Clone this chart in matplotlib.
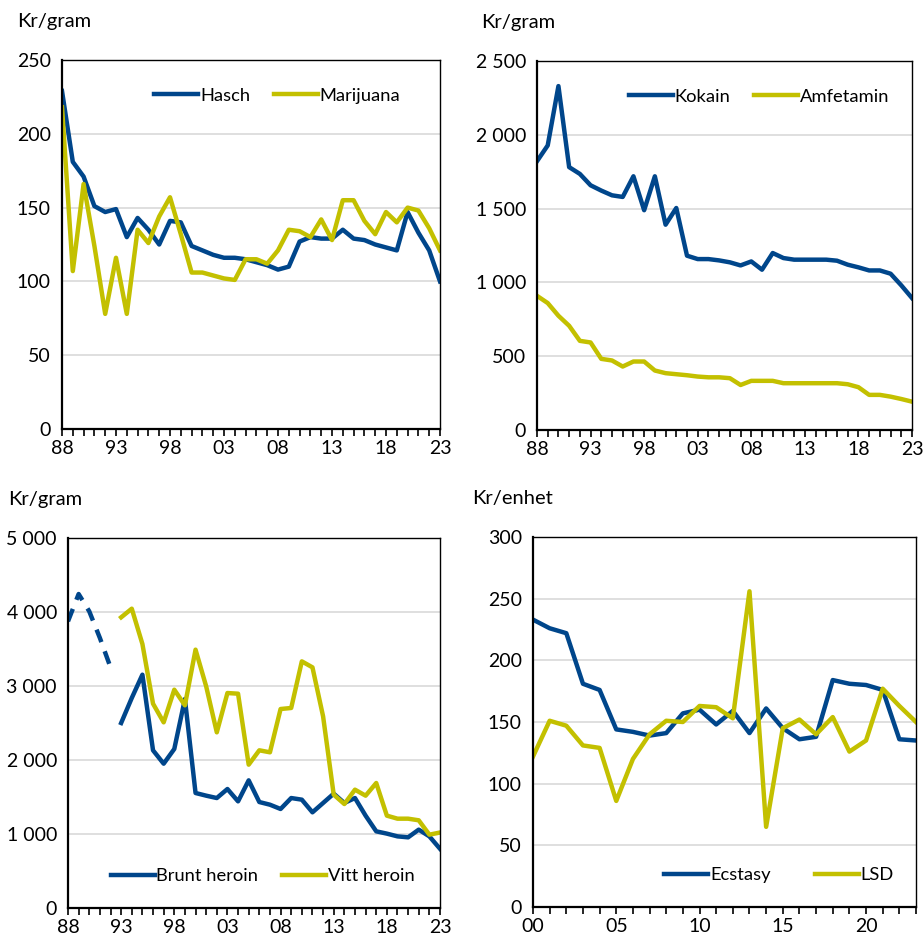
import matplotlib
matplotlib.use("Agg")
import matplotlib.pyplot as plt
from matplotlib.ticker import FuncFormatter, MultipleLocator

plt.rcParams["font.family"] = ["Lato", "DejaVu Sans"]

NAVY = "#00468B"
OLIVE = "#C3C000"

years_long = list(range(1988, 2024))
years_short = list(range(2000, 2024))

hasch = [229, 181, 171, 151, 147, 149, 130, 143, 135, 125, 141, 140, 124, 121, 118, 116,
         116, 115, 113, 111, 108, 110, 127, 130, 129, 129, 135, 129, 128, 125, 123, 121,
         147, 133, 121, 100]
marijuana = [218, 107, 166, 124, 78, 116, 78, 135, 126, 144, 157, 132, 106, 106, 104, 102,
             101, 115, 115, 112, 121, 135, 134, 130, 142, 128, 155, 155, 141, 132, 147, 140,
             150, 148, 136, 121]

kokain = [1821, 1928, 2330, 1781, 1735, 1658, 1622, 1590, 1579, 1719, 1489, 1719, 1391,
          1504, 1181, 1158, 1158, 1149, 1136, 1115, 1142, 1086, 1199, 1165, 1154, 1154,
          1154, 1154, 1147, 1120, 1102, 1081, 1081, 1059, 980, 894]
amfetamin = [909, 860, 774, 706, 604, 593, 482, 471, 430, 464, 464, 403, 385, 378, 371,
             362, 357, 357, 351, 305, 333, 333, 333, 317, 317, 317, 317, 317, 317, 310,
             290, 238, 238, 226, 210, 192]

# brunt heroin: 1988-1992 older series (dashed), 1993- current series
brunt_old = [3874, 4243, 4009, 3649, 3252]
brunt_heroin = [2500, 2838, 3153, 2131, 1950, 2149, 2824, 1554, 1518, 1486, 1608, 1441,
                1725, 1432, 1396, 1338, 1486, 1464, 1293, 1419, 1545, 1419, 1486, 1248,
                1036, 1005, 968, 955, 1059, 968, 800]
vitt_heroin = [3928, 4045, 3568, 2761, 2509, 2950, 2739, 3491, 2995, 2374, 2905, 2896,
               1937, 2131, 2104, 2689, 2703, 3333, 3252, 2590, 1532, 1405, 1599, 1518,
               1689, 1248, 1207, 1207, 1185, 991, 1020]

ecstasy = [233, 226, 222, 181, 176, 144, 142, 139, 141, 157, 160, 148, 159, 141, 161, 145,
           136, 138, 184, 181, 180, 176, 136, 135]
lsd = [122, 151, 147, 131, 129, 86, 120, 140, 151, 150, 163, 162, 153, 256, 65, 145, 152,
       140, 154, 126, 135, 177, 163, 150]

FS = 14


def space_thousands(v, _pos):
    return f"{int(v):,}".replace(",", " ")


def yy(v, _pos):
    return f"{int(v) % 100:02d}"


def style(ax, xmin, xmax, ymax, ystep, ylabel, xstep, title_x):
    ax.set_xlim(xmin, xmax)
    ax.set_ylim(0, ymax)
    ax.yaxis.set_major_locator(MultipleLocator(ystep))
    ax.yaxis.set_major_formatter(FuncFormatter(space_thousands))
    ax.xaxis.set_major_locator(MultipleLocator(xstep))
    ax.xaxis.set_minor_locator(MultipleLocator(1))
    ax.xaxis.set_major_formatter(FuncFormatter(yy))
    if xmin % xstep:
        ax.set_xticks(range(xmin, xmax + 1, xstep))
    ax.grid(axis="y", color="#D9D9D9", linewidth=1.2)
    ax.set_axisbelow(True)
    for s in ax.spines.values():
        s.set_color("black")
        s.set_linewidth(1.0)
    ax.spines["left"].set_linewidth(1.6)
    ax.spines["bottom"].set_linewidth(1.6)
    ax.tick_params(axis="y", length=0, labelsize=FS, pad=8)
    ax.tick_params(axis="x", which="both", direction="out", length=5, width=1.2,
                   labelsize=FS, pad=3)
    ax.text(title_x, 1.08, ylabel, transform=ax.transAxes, fontsize=FS + 0.5,
            va="bottom", ha="left")


def legend(ax, loc, anchor, spacing=1.3):
    ax.legend(loc=loc, bbox_to_anchor=anchor, ncol=2, frameon=False, fontsize=13.2,
              handlelength=2.4, handletextpad=0.1, columnspacing=spacing)


fig = plt.figure(figsize=(9.24, 9.42), dpi=100)
W, H = 924, 942


def add_ax(l, t, r, b):
    return fig.add_axes([l / W, 1 - b / H, (r - l) / W, (b - t) / H])


lw = 3.2
ax1 = add_ax(62, 60, 440, 429)
ax1.plot(years_long, hasch, color=NAVY, lw=lw, label="Hasch")
ax1.plot(years_long, marijuana, color=OLIVE, lw=lw, label="Marijuana")
style(ax1, 1988, 2023, 250, 50, "Kr/gram", 5, -0.12)
legend(ax1, "upper left", (0.2, 0.97))

ax2 = add_ax(537, 61, 912, 430)
ax2.plot(years_long, kokain, color=NAVY, lw=lw, label="Kokain")
ax2.plot(years_long, amfetamin, color=OLIVE, lw=lw, label="Amfetamin")
style(ax2, 1988, 2023, 2500, 500, "Kr/gram", 5, -0.15)
legend(ax2, "upper left", (0.2, 0.97))

ax3 = add_ax(68, 538, 440, 908)
ax3.plot(years_long[:5], brunt_old, color=NAVY, lw=lw, ls=(0, (3, 2.2)))
ax3.plot(years_long[5:], brunt_heroin, color=NAVY, lw=lw, label="Brunt heroin")
ax3.plot(years_long[5:], vitt_heroin, color=OLIVE, lw=lw, label="Vitt heroin")
style(ax3, 1988, 2023, 5000, 1000, "Kr/gram", 5, -0.16)
legend(ax3, "lower left", (0.07, 0.02))

ax4 = add_ax(533, 537, 916, 907)
ax4.plot(years_short, ecstasy, color=NAVY, lw=lw, label="Ecstasy")
ax4.plot(years_short, lsd, color=OLIVE, lw=lw, label="LSD")
style(ax4, 2000, 2023, 300, 50, "Kr/enhet", 5, -0.16)
legend(ax4, "lower left", (0.3, 0.02), spacing=2.4)

fig.savefig("out.png", dpi=100, facecolor="white")
